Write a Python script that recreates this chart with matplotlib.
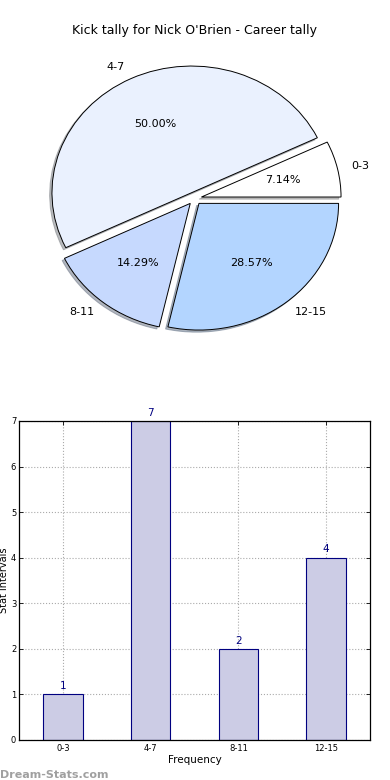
"""Kick tally pie + bar chart for Nick O'Brien."""

import matplotlib
matplotlib.use("Agg")
import matplotlib.pyplot as plt

# data
categories = ["0-3", "4-7", "8-11", "12-15"]
counts = [1, 7, 2, 4]
pie_colors = ["#FFFFFF", "#EAF1FE", "#C6D9FE", "#B3D5FF"]
title = "Kick tally for Nick O'Brien - Career tally"

fig = plt.figure(figsize=(3.9, 7.8), dpi=100)

# --- pie ---
ax_pie = fig.add_axes([0.0515, 0.5426, 0.895, 0.406])
wedges, texts, autotexts = ax_pie.pie(
    counts,
    labels=categories,
    colors=pie_colors,
    explode=[0.05] * len(counts),
    autopct="%1.2f%%",
    shadow={"ox": -0.012, "oy": -0.012, "shade": 0.5},
    startangle=0,
    wedgeprops={"edgecolor": "black", "linewidth": 0.7},
    textprops={"fontsize": 8},
)
ax_pie.set_aspect("auto")
ax_pie.set_xlim(-1.25, 1.25)
ax_pie.set_ylim(-1.25, 1.25)
fig.text(0.5, 0.961, title, ha="center", va="center", fontsize=9)

# --- bars ---
ax_bar = fig.add_axes([0.0487, 0.0513, 0.9, 0.409])
xs = list(range(len(categories)))
ax_bar.bar(xs, counts, width=0.45, color="#CCCCE5", edgecolor="#000080",
           linewidth=0.8, zorder=2)
for x, c in zip(xs, counts):
    ax_bar.text(x, c + 0.07, str(c), ha="center", va="bottom",
                color="#000080", fontsize=7.5)
ax_bar.set_xlim(-0.5, 3.5)
ax_bar.set_ylim(0, 7)
ax_bar.set_xticks(xs)
ax_bar.set_xticklabels(categories)
ax_bar.set_yticks(range(0, 8))
ax_bar.tick_params(labelsize=6, direction="in", top=True, right=True,
                   length=3, width=0.6, pad=3)
ax_bar.tick_params(axis="y", pad=2)
ax_bar.grid(True, linestyle=":", color="#AAAAAA", linewidth=0.8, zorder=0)
ax_bar.set_axisbelow(True)
ax_bar.set_xlabel("Frequency", fontsize=7.5, labelpad=1)
ax_bar.set_ylabel("Stat intervals", fontsize=7)
ax_bar.yaxis.set_label_coords(-0.029, 0.5)
for s in ax_bar.spines.values():
    s.set_linewidth(0.9)

fig.text(0.0, 0.0, "Dream-Stats.com", color="#A0A0A0", fontsize=8,
         fontweight="bold", ha="left", va="bottom")

fig.savefig("out.png", dpi=100)
